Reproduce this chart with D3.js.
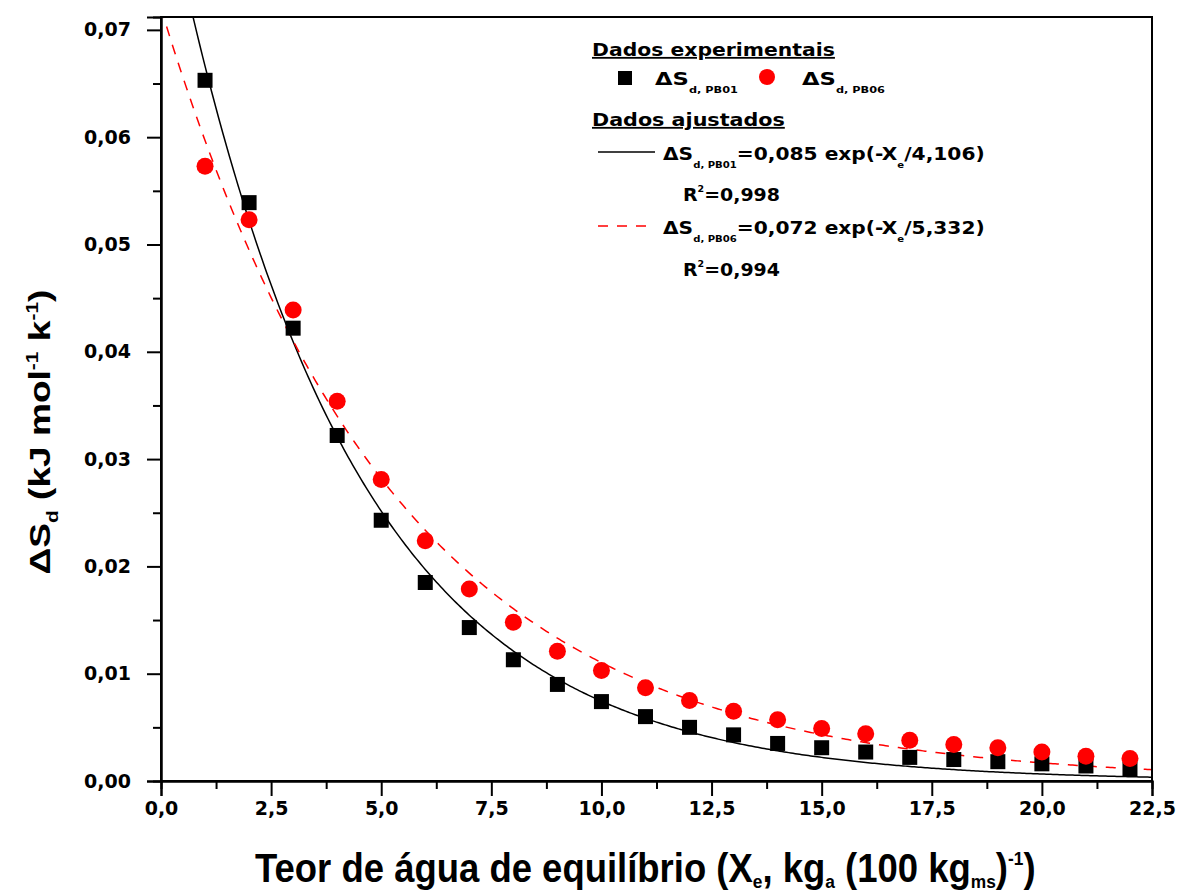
<!DOCTYPE html>
<html><head><meta charset="utf-8">
<script src="https://cdn.jsdelivr.net/npm/d3@7/dist/d3.min.js"></script>
<style>
body{margin:0;background:#fff;}
svg text{font-family:"DejaVu Sans",sans-serif;font-weight:bold;fill:#000;}
</style></head><body>
<svg id="chart" width="1177" height="895"></svg>
<script>
// ---- data ----
const xValues = [1,2,3,4,5,6,7,8,9,10,11,12,13,14,15,16,17,18,19,20,21,22];
const seriesPB01 = [0.0653,0.0539,0.0422,0.0322,0.0243,0.0185,0.0143,0.0113,0.0090,0.0074,0.0060,0.0050,0.0043,0.0035,0.0031,0.0027,0.0022,0.0020,0.0018,0.0016,0.0014,0.0011];
const seriesPB06 = [0.0573,0.0523,0.0439,0.0354,0.0281,0.0224,0.0179,0.0148,0.0121,0.0103,0.0087,0.0075,0.0065,0.0057,0.0049,0.0044,0.0038,0.0034,0.0031,0.0027,0.0023,0.0021];
const fitPB01 = [0.085, 4.106];   // a, b in a*exp(-X/b)
const fitPB06 = [0.072, 5.332];
const xTicks = [0,2.5,5,7.5,10,12.5,15,17.5,20,22.5];
const yTicks = [0,0.01,0.02,0.03,0.04,0.05,0.06,0.07];

const svg = d3.select("#chart");
const L=161, R=1152, T=17, B=781;
const x = d3.scaleLinear().domain([0,22.5]).range([L,R]);
const y = d3.scaleLinear().domain([0,0.0712]).range([B,T]);
const fmtX = v => d3.format(".1f")(v).replace(".",",");
const fmtY = v => d3.format(".2f")(v).replace(".",",");

function fitW(t, x0, target){
  const w = t.node().getBBox().width;
  t.attr("transform",`translate(${x0},0) scale(${target/w},1) translate(${-x0},0)`);
}

svg.append("defs").append("clipPath").attr("id","clip")
  .append("rect").attr("x",L).attr("y",T).attr("width",R-L).attr("height",B-T);

// fitted curves
const xs = d3.range(0, 22.5001, 0.05);
const line = d3.line().x(d=>x(d[0])).y(d=>y(d[1]));
svg.append("path").attr("clip-path","url(#clip)")
  .datum(xs.map(v=>[v, fitPB01[0]*Math.exp(-v/fitPB01[1])]))
  .attr("d",line).attr("fill","none").attr("stroke","#000").attr("stroke-width",1.5);
svg.append("path").attr("clip-path","url(#clip)")
  .datum(xs.map(v=>[v, fitPB06[0]*Math.exp(-v/fitPB06[1])]))
  .attr("d",line).attr("fill","none").attr("stroke","#ff0000").attr("stroke-width",1.5)
  .attr("stroke-dasharray","10,9");

// markers
const sq = 15;
svg.append("g").selectAll("rect").data(xValues.map((v,i)=>[v,seriesPB01[i]])).join("rect")
  .attr("x",d=>x(d[0])-sq/2).attr("y",d=>y(d[1])-sq/2).attr("width",sq).attr("height",sq).attr("fill","#000");
svg.append("g").selectAll("circle").data(xValues.map((v,i)=>[v,seriesPB06[i]])).join("circle")
  .attr("cx",d=>x(d[0])).attr("cy",d=>y(d[1])).attr("r",8.5).attr("fill","#ff0000");

// frame
svg.append("rect").attr("x",L).attr("y",T).attr("width",R-L).attr("height",B-T)
  .attr("fill","none").attr("stroke","#000").attr("stroke-width",2);

// axes
const xAxis = svg.append("g").attr("transform",`translate(0,${B})`)
  .call(d3.axisBottom(x).tickValues(xTicks).tickSize(15).tickPadding(6).tickFormat(fmtX));
const xMinor = svg.append("g").attr("transform",`translate(0,${B})`)
  .call(d3.axisBottom(x).tickValues(d3.range(1.25,22.5,2.5)).tickSize(8).tickFormat(""));
const yAxis = svg.append("g").attr("transform",`translate(${L},0)`)
  .call(d3.axisLeft(y).tickValues(yTicks).tickSize(14).tickPadding(16).tickFormat(fmtY));
const yMinor = svg.append("g").attr("transform",`translate(${L},0)`)
  .call(d3.axisLeft(y).tickValues(d3.range(0.005,0.071,0.01)).tickSize(8).tickFormat(""));
[xAxis,xMinor,yAxis,yMinor].forEach(g=>{
  g.select(".domain").attr("stroke","#000").attr("stroke-width",2);
  g.selectAll(".tick line").attr("stroke","#000").attr("stroke-width",2);
  g.selectAll("text").attr("font-size",19).style("font-family","DejaVu Sans, sans-serif").attr("font-weight","bold").attr("fill","#000");
});

// axis titles
const yt = svg.append("text").attr("x",0).attr("y",0)
  .attr("text-anchor","middle").attr("font-size",30).style("font-family","Liberation Sans, Arial, sans-serif");
yt.append("tspan").text("ΔS");
yt.append("tspan").text("d").attr("font-size",17).attr("dy",8);
yt.append("tspan").text(" (kJ mol").attr("dy",-8);
yt.append("tspan").text("-1").attr("font-size",17).attr("dy",-12);
yt.append("tspan").text(" k").attr("dy",12);
yt.append("tspan").text("-1").attr("font-size",17).attr("dy",-12);
yt.append("tspan").text(")").attr("dy",12);
(function(){const w=yt.node().getComputedTextLength();
  yt.attr("transform",`translate(50,432) rotate(-90) scale(${285/w},1)`);})();

const xt = svg.append("text").attr("x",255).attr("y",882).attr("font-size",40)
  .style("font-family","Liberation Sans, Arial, sans-serif");
xt.append("tspan").text("Teor de água de equilíbrio (X");
xt.append("tspan").text("e").attr("font-size",19).attr("dy",6);
xt.append("tspan").text(", kg").attr("dy",-6);
xt.append("tspan").text("a").attr("font-size",19).attr("dy",6);
xt.append("tspan").text(" (100 kg").attr("dy",-6);
xt.append("tspan").text("ms").attr("font-size",19).attr("dy",6);
xt.append("tspan").text(")").attr("dy",-6);
xt.append("tspan").text("-1").attr("font-size",19).attr("dy",-17);
xt.append("tspan").text(")").attr("dy",17);
fitW(xt,255,1036-255);

// legend
const lg = svg.append("g");
const fs = 18;
fitW(lg.append("text").attr("x",592).attr("y",56).attr("font-size",fs).attr("text-decoration","underline").text("Dados experimentais"),592,243);
lg.append("rect").attr("x",625-7).attr("y",78-7).attr("width",14).attr("height",14).attr("fill","#000");
function dsLabel(g, xx, yy, sub){
  const t = g.append("text").attr("x",xx).attr("y",yy).attr("font-size",fs);
  t.append("tspan").text("ΔS");
  t.append("tspan").text(sub).attr("font-size",9).attr("dy",8);
  return t;
}
fitW(dsLabel(lg,655,85,"d, PB01"),655,83);
lg.append("circle").attr("cx",767).attr("cy",77).attr("r",8).attr("fill","#ff0000");
fitW(dsLabel(lg,802,85,"d, PB06"),802,83);
fitW(lg.append("text").attr("x",592).attr("y",126).attr("font-size",fs).attr("text-decoration","underline").text("Dados ajustados"),592,193);

lg.append("line").attr("x1",598).attr("x2",655).attr("y1",152).attr("y2",152).attr("stroke","#000").attr("stroke-width",1.5);
function fitLabel(yy, sub, txt){
  const t = dsLabel(lg,663,yy,sub);
  t.append("tspan").text("=0,0"+txt[0]+"  exp(-X").attr("dy",-8).attr("font-size",fs);
  t.append("tspan").text("e").attr("font-size",9).attr("dy",8);
  t.append("tspan").text("/"+txt[1]+")").attr("dy",-8).attr("font-size",fs);
  fitW(t,663,322);
  return t;
}
fitLabel(160,"d, PB01",["85","4,106"]);
function r2(yy, v, w){
  const t = lg.append("text").attr("x",683).attr("y",yy).attr("font-size",fs);
  t.append("tspan").text("R");
  t.append("tspan").text("2").attr("font-size",9).attr("dy",-9);
  t.append("tspan").text("="+v).attr("dy",9);
  fitW(t,683,w);
}
r2(201,"0,998",97);
lg.append("line").attr("x1",598).attr("x2",655).attr("y1",226).attr("y2",226).attr("stroke","#ff0000").attr("stroke-width",1.5).attr("stroke-dasharray","10,9");
fitLabel(234,"d, PB06",["72","5,332"]);
r2(276,"0,994",97);
</script>
</body></html>
